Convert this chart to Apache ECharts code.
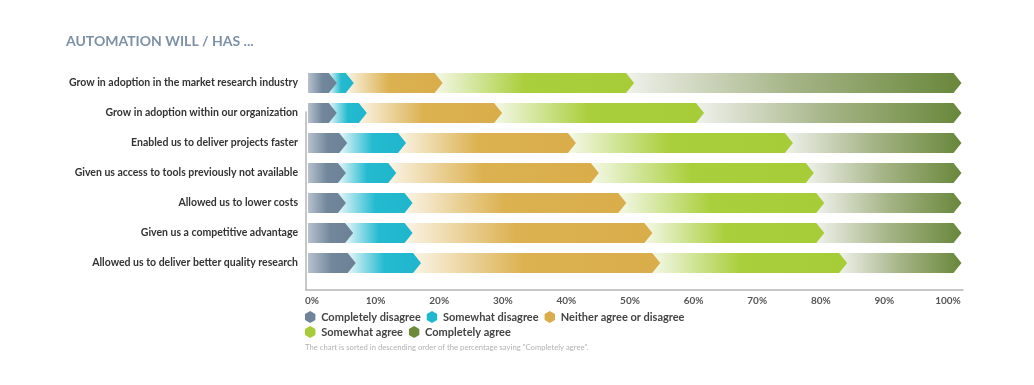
<!DOCTYPE html>
<html>
<head>
<meta charset="utf-8">
<script src="https://cdn.jsdelivr.net/npm/echarts@6/dist/echarts.min.js"></script>
<style>
html,body{margin:0;padding:0;background:#fff;}
#chart{width:1034px;height:385px;}
</style>
</head>
<body>
<div id="chart"></div>
<script>
const categories = [
  'Grow in adoption in the market research industry',
  'Grow in adoption within our organization',
  'Enabled us to deliver projects faster',
  'Given us access to tools previously not available',
  'Allowed us to lower costs',
  'Given us a competitive advantage',
  'Allowed us to deliver better quality research'
];
const seriesNames = ['Completely disagree', 'Somewhat disagree', 'Neither agree or disagree', 'Somewhat agree', 'Completely agree'];
const completelyDisagree = [4.4, 4.4, 6.0, 5.8, 5.8, 6.9, 7.3];
const somewhatDisagree   = [2.6, 4.6, 9.0, 7.7, 10.2, 9.1, 10.0];
const neitherAgree       = [13.6, 20.7, 26.0, 31.0, 32.7, 36.7, 36.6];
const somewhatAgree      = [29.3, 30.9, 33.2, 32.9, 30.3, 26.3, 28.6];
const completelyAgree    = [50.1, 39.4, 25.8, 22.6, 21.0, 21.0, 17.5];
const tickValues = [0, 10, 20, 30, 40, 50, 60, 70, 80, 90, 100];

const valueSets = [completelyDisagree, somewhatDisagree, neitherAgree, somewhatAgree, completelyAgree];
const legendColors = ['#6f8499', '#1fb8cf', '#d9ad4a', '#a6cc38', '#6b8a3b'];
const gradients = [
  [[0, '#b7c1cd'], [0.5, '#72879c'], [1, '#6c8196']],
  [[0, '#e8f7f9'], [0.5, '#24bad0'], [1, '#1fb6cd']],
  [[0, '#faf4e6'], [0.45, '#dcb150'], [1, '#d9ad4a']],
  [[0, '#f4f8e8'], [0.45, '#aacf3c'], [1, '#a6cc38']],
  [[0, '#eff1eb'], [0.5, '#a5b486'], [1, '#68873a']]
].map(g => g.map(([o, c]) => ({ offset: o, color: c })));

// cumulative start / end per segment
const segData = valueSets.map(() => []);
categories.forEach((c, ci) => {
  let acc = 0;
  valueSets.forEach((arr, si) => {
    segData[si].push([ci, acc, acc + arr[ci]]);
    acc += arr[ci];
  });
});

const TIP = 8;
function makeRender(si) {
  return function (params, api) {
    const cat = api.value(0), start = api.value(1), end = api.value(2);
    const s = api.coord([start, cat]);
    const e = api.coord([end, cat]);
    const h = api.size([0, 1])[1] * 0.667;
    const yc = s[1];
    const x0 = s[0] - (si > 0 ? TIP : 0);
    const x1 = e[0] - TIP;
    return {
      type: 'polygon',
      shape: { points: [[x0, yc - h / 2], [x1, yc - h / 2], [e[0], yc], [x1, yc + h / 2], [x0, yc + h / 2]] },
      style: { fill: new echarts.graphic.LinearGradient(0, 0, 1, 0, gradients[si]) }
    };
  };
}

const hexIcon = 'path://M50,0 L93.3,25 L93.3,75 L50,100 L6.7,75 L6.7,25 Z';
const FONT = 'Lato';

const chart = echarts.init(document.getElementById('chart'), null, { renderer: 'canvas' });
chart.setOption({
  animation: false,
  backgroundColor: '#ffffff',
  textStyle: { fontFamily: FONT },
  title: [
    { text: 'AUTOMATION WILL / HAS ...', left: 66, top: 34, padding: 0,
      textStyle: { fontFamily: FONT, fontSize: 14, fontWeight: 'bold', color: '#7d91a6' } },
    { text: 'The chart is sorted in descending order of the percentage saying "Completely agree".', left: 305, top: 344, padding: 0,
      textStyle: { fontFamily: FONT, fontSize: 7.7, fontWeight: 'normal', color: '#b3b3b3' } }
  ],
  legend: [
    { data: seriesNames.slice(0, 3), left: 305, top: 311, padding: 0, icon: hexIcon, itemWidth: 12, itemHeight: 12, itemGap: 6,
      textStyle: { fontFamily: FONT, fontSize: 11, fontWeight: 'bold', color: '#444' } },
    { data: seriesNames.slice(3), left: 305, top: 326, padding: 0, icon: hexIcon, itemWidth: 12, itemHeight: 12, itemGap: 6,
      textStyle: { fontFamily: FONT, fontSize: 11, fontWeight: 'bold', color: '#444' } }
  ],
  grid: [
    { left: 308, right: 72.5, top: 68, height: 210 },
    { left: 306, right: 71, top: 112, bottom: 95 },
    { left: 312, right: 86, top: 112, bottom: 95 }
  ],
  xAxis: [
    { gridIndex: 0, type: 'value', min: tickValues[0], max: tickValues[tickValues.length - 1], show: false },
    { gridIndex: 1, type: 'value', min: 0, max: 100, axisLine: { show: true, lineStyle: { color: '#b5b5b5', width: 1.5 } },
      axisTick: { show: false }, axisLabel: { show: false }, splitLine: { show: false } },
    { gridIndex: 2, type: 'value', min: tickValues[0], max: tickValues[tickValues.length - 1], interval: 10,
      axisLine: { show: false }, axisTick: { show: false }, splitLine: { show: false },
      axisLabel: { margin: 6, formatter: '{value}%', fontFamily: FONT, fontSize: 10, fontWeight: 'bold', color: '#555' } }
  ],
  yAxis: [
    { gridIndex: 0, type: 'category', data: categories, inverse: true,
      axisLine: { show: false }, axisTick: { show: false }, splitLine: { show: false },
      axisLabel: { margin: 10, fontFamily: FONT, fontSize: 10.5, fontWeight: 'bold', color: '#333' } },
    { gridIndex: 1, type: 'value', axisLine: { show: true, lineStyle: { color: '#b5b5b5', width: 1.5 } },
      axisTick: { show: false }, axisLabel: { show: false }, splitLine: { show: false } },
    { gridIndex: 2, type: 'value', show: false }
  ],
  series: segData.map((d, si) => ({
    name: seriesNames[si],
    type: 'custom',
    xAxisIndex: 0,
    yAxisIndex: 0,
    z: 10 - si,
    itemStyle: { color: legendColors[si] },
    encode: { x: [1, 2], y: 0 },
    renderItem: makeRender(si),
    data: d
  }))
});
</script>
</body>
</html>
